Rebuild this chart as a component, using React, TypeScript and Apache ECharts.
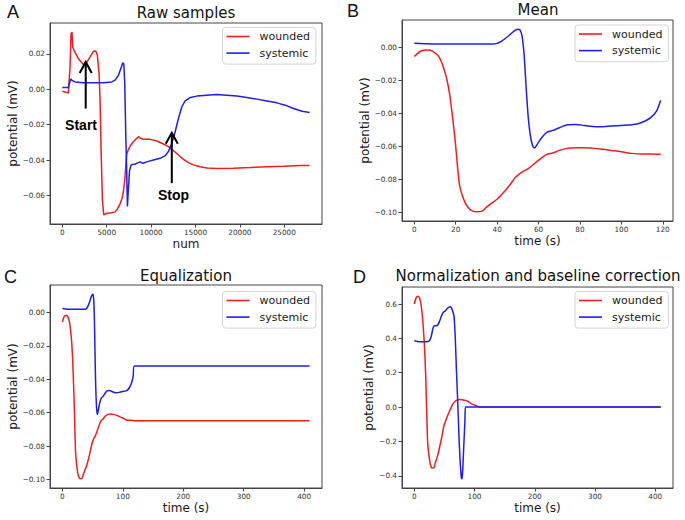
import React, { useEffect, useRef } from 'react';
import * as echarts from 'echarts';

// ---------- Panel A: raw samples (sample number vs potential, mV) ----------
const rawNumWounded = [0, 677, 790, 865, 977, 1090, 1165, 1316, 1805, 2368, 2669, 3120, 3496, 3759, 3947, 4135, 4248, 4361, 4511, 4662, 5000, 5560, 5940, 6200, 6500, 6730, 6880, 7030, 7140, 7255, 7440, 7710, 8000, 8380, 8570, 8830, 9140, 9890, 10640, 11390, 11950, 12520, 13080, 13650, 14210, 14770, 15530, 16280, 17400, 19290, 21170, 23050, 24920, 26800, 27860];
const rawWounded = [-0.0012, -0.0021, 0.0069, 0.0126, 0.0313, 0.0322, 0.0238, 0.0219, 0.0172, 0.0139, 0.0144, 0.0182, 0.0214, 0.0216, 0.0191, 0.0088, -0.0062, -0.0343, -0.0624, -0.0709, -0.07, -0.0697, -0.0692, -0.0677, -0.0647, -0.0615, -0.0577, -0.0512, -0.0437, -0.0366, -0.034, -0.0315, -0.0296, -0.0277, -0.0268, -0.0277, -0.0283, -0.0283, -0.0292, -0.0309, -0.0324, -0.0347, -0.0371, -0.0396, -0.0414, -0.0427, -0.0437, -0.0444, -0.0448, -0.0446, -0.0442, -0.0437, -0.0435, -0.0431, -0.0431];
const rawNumSystemic = [0, 677, 790, 940, 1090, 1430, 2370, 3500, 4620, 5560, 5940, 6320, 6580, 6800, 6920, 7030, 7140, 7255, 7330, 7410, 7560, 7740, 8200, 8570, 8760, 9060, 9510, 10260, 11015, 11580, 11950, 12330, 12710, 13080, 13460, 13830, 14400, 15150, 16280, 17400, 18530, 19660, 20790, 21920, 23050, 24170, 25110, 26050, 27000, 27860];
const rawSystemic = [0.0009, 0.0009, 0.0032, 0.0058, 0.005, 0.0041, 0.0037, 0.0036, 0.0036, 0.0041, 0.0051, 0.0079, 0.0116, 0.0148, 0.0144, 0.0032, -0.0249, -0.0474, -0.0662, -0.0587, -0.0465, -0.0427, -0.0422, -0.0414, -0.041, -0.0418, -0.041, -0.0399, -0.039, -0.0375, -0.0352, -0.0306, -0.024, -0.0165, -0.0099, -0.0066, -0.0047, -0.0039, -0.0034, -0.003, -0.0034, -0.0039, -0.0047, -0.0056, -0.0066, -0.0077, -0.009, -0.0109, -0.0124, -0.0131];

// annotation arrows (data coordinates of panel A)
const arrowNames = ['Start', 'Stop'];
const arrowX = [2630, 12330];
const arrowTipY = [0.0154, -0.0246];
const arrowTailY = [-0.0109, -0.053];
const arrowTextX = [2105, 12520];
const arrowTextY = [-0.0202, -0.0596];

// ---------- Panel B: mean (time s vs potential) ----------
const meanWoundedT = [0, 3, 6, 9, 12, 15, 17, 19, 20, 21, 22, 24, 26, 28, 30, 33, 35, 37, 40, 43, 46, 49, 52, 55, 58, 61, 64, 67, 70, 75, 80, 85, 90, 95, 100, 105, 110, 115, 119];
const meanWounded = [-0.0056, -0.0024, -0.0016, -0.0024, -0.006, -0.016, -0.028, -0.048, -0.06, -0.074, -0.0845, -0.0925, -0.097, -0.099, -0.0996, -0.099, -0.0966, -0.0946, -0.092, -0.088, -0.0835, -0.0785, -0.0755, -0.0735, -0.0704, -0.0674, -0.0648, -0.064, -0.0624, -0.061, -0.0608, -0.061, -0.0616, -0.0624, -0.0632, -0.0642, -0.0646, -0.0646, -0.0648];
const meanSystemicT = [0, 5, 10, 20, 30, 38, 40, 42, 45, 48, 50, 51, 52, 53, 54, 55, 56, 57, 58, 59, 60, 62, 64, 67, 70, 74, 78, 82, 86, 90, 95, 100, 105, 108, 111, 114, 117, 119];
const meanSystemic = [0.0024, 0.0022, 0.002, 0.002, 0.002, 0.002, 0.0024, 0.0036, 0.0064, 0.0097, 0.011, 0.0105, 0.007, -0.004, -0.024, -0.042, -0.053, -0.059, -0.061, -0.0594, -0.0574, -0.054, -0.0515, -0.0503, -0.0487, -0.0469, -0.0467, -0.0473, -0.0479, -0.0481, -0.0477, -0.0473, -0.0469, -0.0463, -0.0449, -0.0427, -0.0386, -0.032];

// ---------- Panel C: equalization (mean held at its last value until 409 s) ----------
const eqWoundedT = [...meanWoundedT, 409];
const eqWounded = [...meanWounded, -0.0648];
const eqSystemicT = [...meanSystemicT, 409];
const eqSystemic = [...meanSystemic, -0.032];

// ---------- Panel D: normalization and baseline correction ----------
const normWoundedT = [0, 3, 6, 9, 12, 15, 17, 19, 20, 21, 22, 24, 26, 28, 30, 33, 35, 37, 40, 43, 46, 49, 52, 55, 58, 61, 64, 67, 70, 75, 80, 85, 90, 95, 100, 105, 110, 409];
const normWounded = [0.6, 0.636, 0.646, 0.633, 0.575, 0.459, 0.343, 0.17, 0.035, -0.081, -0.197, -0.274, -0.322, -0.351, -0.355, -0.351, -0.322, -0.303, -0.264, -0.216, -0.168, -0.11, -0.081, -0.052, -0.027, -0.004, 0.019, 0.031, 0.039, 0.044, 0.042, 0.039, 0.031, 0.019, 0.012, 0.004, 0, 0];
const normSystemicT = [0, 5, 10, 15, 20, 25, 28, 31, 33, 36, 39, 42, 45, 48, 51, 54, 57, 60, 62, 64, 66, 68, 70, 72, 74, 76, 78, 79, 80, 82, 84, 85, 409];
const normSystemic = [0.388, 0.382, 0.38, 0.38, 0.38, 0.386, 0.411, 0.459, 0.474, 0.474, 0.478, 0.501, 0.53, 0.552, 0.559, 0.571, 0.58, 0.584, 0.575, 0.555, 0.527, 0.401, 0.208, 0.035, -0.158, -0.312, -0.409, -0.418, -0.39, -0.235, -0.081, 0, 0];

// ---------- tick values ----------
const ticksRawX = [0, 5000, 10000, 15000, 20000, 25000];
const ticksRawY = [-0.06, -0.04, -0.02, 0, 0.02];
const ticksMeanX = [0, 20, 40, 60, 80, 100, 120];
const ticksMeanY = [-0.1, -0.08, -0.06, -0.04, -0.02, 0];
const ticksLongX = [0, 100, 200, 300, 400];
const ticksNormY = [-0.4, -0.2, 0, 0.2, 0.4, 0.6];

const panelTitles = ['Raw samples', 'Mean', 'Equalization', 'Normalization and baseline correction'];
const panelLetters = ['A', 'B', 'C', 'D'];
const seriesNames = ['wounded', 'systemic'];

const RED = '#f01e1e';
const BLUE = '#1e1ef0';
const FONT = 'DejaVu Sans';

const zip = (xs: number[], ys: number[]) => xs.map((x, i) => [x, ys[i]]);
const minus = (s: string) => s.replace('-', '\u2212');
function padRange(arrs: number[][], frac = 0.05): [number, number] {
  let lo = Infinity;
  let hi = -Infinity;
  arrs.forEach((a) => a.forEach((v) => { if (v < lo) lo = v; if (v > hi) hi = v; }));
  const p = (hi - lo) * frac;
  return [lo - p, hi + p];
}

export default function App() {
  const ref = useRef<HTMLDivElement>(null);
  useEffect(() => {
    document.body.style.margin = '0';
    const chart = echarts.init(ref.current!, null, { renderer: 'svg' });

    const grids = [
      { left: 50, top: 23, width: 272, height: 201 },
      { left: 402, top: 20, width: 271, height: 201 },
      { left: 50, top: 285, width: 272, height: 203 },
      { left: 402, top: 287, width: 271, height: 201 },
    ];
    const legendPos = [
      { left: 222.5, top: 27.5 },
      { left: 575, top: 25 },
      { left: 222.5, top: 291.5 },
      { left: 575, top: 291.5 },
    ];

    const xRanges = [
      padRange([rawNumWounded, rawNumSystemic]),
      padRange([meanWoundedT, meanSystemicT]),
      padRange([eqWoundedT, eqSystemicT]),
      padRange([normWoundedT, normSystemicT]),
    ];
    const yRanges = [
      padRange([rawWounded, rawSystemic]),
      padRange([meanWounded, meanSystemic]),
      padRange([eqWounded, eqSystemic]),
      padRange([normWounded, normSystemic]),
    ];
    const xTicks = [ticksRawX, ticksMeanX, ticksLongX, ticksLongX];
    const yTicks = [ticksRawY, ticksMeanY, ticksMeanY, ticksNormY];
    const yDigits = [2, 2, 2, 1];
    const xNames = ['num', 'time (s)', 'time (s)', 'time (s)'];
    const yNameGaps = [30, 30, 30, 24];

    const axisCommon = {
      type: 'value',
      nameLocation: 'middle',
      nameTextStyle: { fontFamily: FONT, fontSize: 12, color: '#1a1a1a' },
      axisLine: { show: true, onZero: false, lineStyle: { color: '#444', width: 1 } },
      splitLine: { show: false },
    };

    const xAxes = grids.map((_, i) => ({
      ...axisCommon,
      gridIndex: i,
      min: xRanges[i][0],
      max: xRanges[i][1],
      name: xNames[i],
      nameGap: 14,
      axisTick: { show: true, length: 3.5, lineStyle: { color: '#444', width: 1 }, customValues: xTicks[i] },
      axisLabel: {
        fontFamily: FONT, fontSize: 7.3, color: '#333', margin: 5,
        customValues: xTicks[i], formatter: (v: number) => minus(String(Math.round(v))),
      },
    }));
    const yAxes = grids.map((_, i) => ({
      ...axisCommon,
      gridIndex: i,
      min: yRanges[i][0],
      max: yRanges[i][1],
      name: 'potential (mV)',
      nameGap: yNameGaps[i],
      axisTick: { show: true, length: 3.5, lineStyle: { color: '#444', width: 1 }, customValues: yTicks[i] },
      axisLabel: {
        fontFamily: FONT, fontSize: 7.3, color: '#333', margin: 5,
        customValues: yTicks[i], formatter: (v: number) => minus(v.toFixed(yDigits[i])),
      },
    }));

    const pairs = [
      [zip(rawNumWounded, rawWounded), zip(rawNumSystemic, rawSystemic)],
      [zip(meanWoundedT, meanWounded), zip(meanSystemicT, meanSystemic)],
      [zip(eqWoundedT, eqWounded), zip(eqSystemicT, eqSystemic)],
      [zip(normWoundedT, normWounded), zip(normSystemicT, normSystemic)],
    ];
    const series: any[] = [];
    pairs.forEach((p, i) => {
      p.forEach((data, k) => {
        const color = k === 0 ? RED : BLUE;
        series.push({
          type: 'line',
          name: seriesNames[k],
          xAxisIndex: i,
          yAxisIndex: i,
          data,
          symbol: 'none',
          showSymbol: false,
          smooth: i === 0 ? false : 0.25,
          lineStyle: { color, width: 1.5 },
          itemStyle: { color },
          emphasis: { disabled: true },
        });
      });
    });

    const legends = legendPos.map((pos) => ({
      ...pos,
      orient: 'vertical',
      icon: 'rect',
      padding: [3.5, 6, 5.5, 4],
      itemWidth: 23,
      itemHeight: 1.6,
      itemGap: 5.6,
      borderColor: '#d4d4d4',
      borderWidth: 1,
      borderRadius: 3,
      backgroundColor: '#ffffff',
      selectedMode: false,
      textStyle: { fontFamily: FONT, fontSize: 11, color: '#1a1a1a', padding: [0, 0, 0, 5] },
      data: seriesNames,
    }));

    chart.setOption({
      animation: false,
      backgroundColor: '#ffffff',
      grid: grids.map((g) => ({ ...g, show: true, borderColor: '#444', borderWidth: 1, backgroundColor: 'transparent' })),
      xAxis: xAxes,
      yAxis: yAxes,
      legend: legends,
      series,
    });

    // titles and panel letters
    const titlePos = [[186, 12.5], [538, 9.5], [186, 276], [538, 276]];
    const letterPos = [[7, 12], [347, 11], [4, 277], [353, 277]];
    const graphics: any[] = [];
    panelTitles.forEach((t, i) => {
      graphics.push({
        type: 'text', x: titlePos[i][0], y: titlePos[i][1], z: 100,
        style: { text: t, fontFamily: FONT, fontSize: 15, fill: '#111', align: 'center', verticalAlign: 'middle' },
      });
      graphics.push({
        type: 'text', x: letterPos[i][0], y: letterPos[i][1], z: 100,
        style: { text: panelLetters[i], fontFamily: 'Liberation Sans', fontSize: 18, fill: '#111', align: 'left', verticalAlign: 'middle' },
      });
    });

    // annotation arrows in panel A, positioned through the axis scales
    arrowNames.forEach((name, i) => {
      const tip = chart.convertToPixel({ gridIndex: 0 }, [arrowX[i], arrowTipY[i]]) as number[];
      const tail = chart.convertToPixel({ gridIndex: 0 }, [arrowX[i], arrowTailY[i]]) as number[];
      const txt = chart.convertToPixel({ gridIndex: 0 }, [arrowTextX[i], arrowTextY[i]]) as number[];
      graphics.push({
        type: 'line', z: 100,
        shape: { x1: tail[0], y1: tail[1], x2: tip[0], y2: tip[1] },
        style: { stroke: '#000', lineWidth: 2 },
      });
      graphics.push({
        type: 'polyline', z: 100,
        shape: { points: [[tip[0] - 6, tip[1] + 11], [tip[0], tip[1]], [tip[0] + 6, tip[1] + 11]] },
        style: { stroke: '#000', lineWidth: 2, fill: null },
      });
      graphics.push({
        type: 'text', x: txt[0], y: txt[1], z: 100,
        style: { text: name, fontFamily: 'Liberation Sans', fontWeight: 'bold', fontSize: 14, fill: '#000', align: 'center', verticalAlign: 'middle' },
      });
    });

    chart.setOption({ graphic: graphics });

    return () => chart.dispose();
  }, []);
  return <div ref={ref} style={{ width: 685, height: 520 }} />;
}
